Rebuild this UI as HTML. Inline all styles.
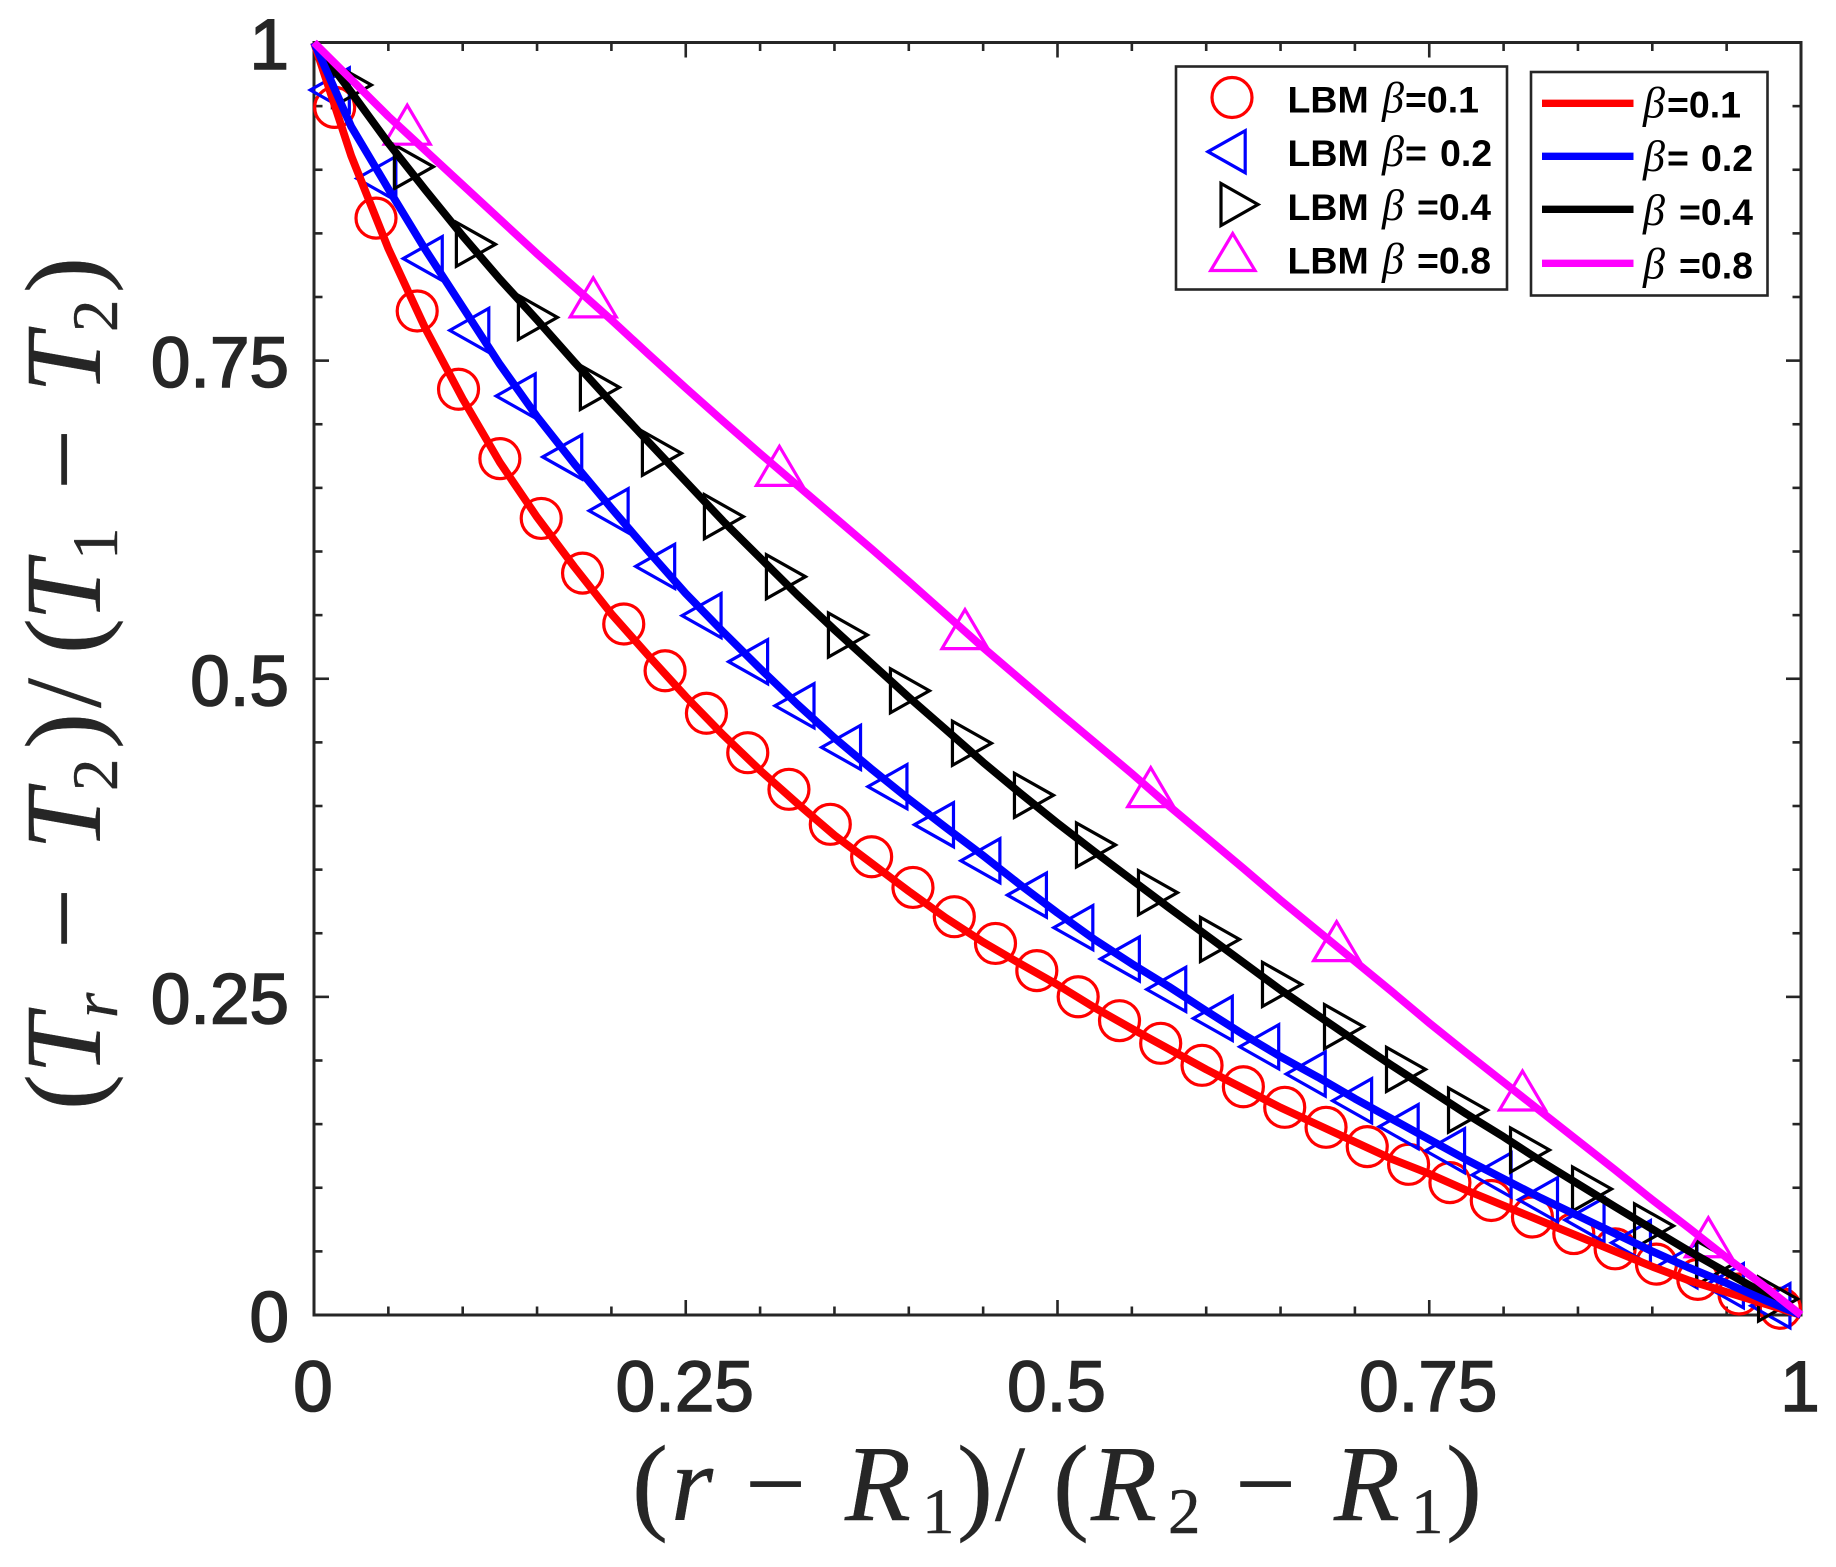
<!DOCTYPE html>
<html lang="en">
<head>
<meta charset="utf-8">
<title>Temperature profile chart</title>
<style>
html,body{margin:0;padding:0;background:#fff;}
svg{display:block;}
.tick-label{font-family:"Liberation Sans",sans-serif;font-size:71px;fill:#262626;stroke:#262626;stroke-width:1.6px;}
.math{font-family:"Liberation Serif",serif;fill:#262626;stroke:#262626;stroke-width:0.4px;}
.it{font-style:italic;}
.leg{font-family:"Liberation Sans",sans-serif;font-weight:bold;font-size:37.5px;fill:#000;}
.beta{font-family:"Liberation Serif",serif;font-style:italic;font-size:44px;font-weight:normal;fill:#000;}
</style>
</head>
<body>
<svg id="chart" xmlns="http://www.w3.org/2000/svg" width="1836" height="1567" viewBox="0 0 1836 1567">
  <rect x="0" y="0" width="1836" height="1567" fill="#fff"/>
  <g id="axes-layer"></g>
  <g id="marker-layer"></g>
  <g id="line-layer"></g>

  <text class="math" font-size="108">
    <tspan class="math" x="632" y="1520">(</tspan><tspan class="math it" x="671" y="1520">r</tspan><tspan class="math" x="745" y="1520">−</tspan><tspan class="math it" x="845" y="1520">R</tspan><tspan class="math" x="922" y="1533" font-size="65">1</tspan><tspan class="math" x="957" y="1520">)</tspan><tspan class="math" x="995" y="1520">/</tspan><tspan class="math" x="1053" y="1520">(</tspan><tspan class="math it" x="1091" y="1520">R</tspan><tspan class="math" x="1168" y="1533" font-size="65">2</tspan><tspan class="math" x="1235" y="1520">−</tspan><tspan class="math it" x="1334" y="1520">R</tspan><tspan class="math" x="1411" y="1533" font-size="65">1</tspan><tspan class="math" x="1446" y="1520">)</tspan>
  </text>

  <g transform="translate(100,0) rotate(-90)">
    <text class="math" font-size="108">
      <tspan class="math" x="-1110" y="0">(</tspan><tspan class="math it" x="-1074" y="0">T</tspan><tspan class="math it" x="-1018" y="17" font-size="65">r</tspan><tspan class="math" x="-949" y="0">−</tspan><tspan class="math it" x="-850" y="0">T</tspan><tspan class="math" x="-791" y="17" font-size="65">2</tspan><tspan class="math" x="-749" y="0">)</tspan><tspan class="math" x="-708" y="0">/</tspan><tspan class="math" x="-654" y="0">(</tspan><tspan class="math it" x="-621" y="0">T</tspan><tspan class="math" x="-560" y="17" font-size="65">1</tspan><tspan class="math" x="-490" y="0">−</tspan><tspan class="math it" x="-393" y="0">T</tspan><tspan class="math" x="-332" y="17" font-size="65">2</tspan><tspan class="math" x="-293" y="0">)</tspan>
    </text>
  </g>

  <g>
    <rect x="1176" y="66.5" width="331" height="223" fill="#fff" stroke="#262626" stroke-width="2.6"/>
    <circle cx="1232" cy="97.5" r="20" fill="none" stroke="#ff0000" stroke-width="3.2"/>
    <polygon points="1208,151.7 1245.2,130.7 1245.2,172.7" fill="none" stroke="#0000ff" stroke-width="3.2"/>
    <polygon points="1258,204.5 1221,183.5 1221,225.5" fill="none" stroke="#000" stroke-width="3.2"/>
    <polygon points="1232.7,233.5 1210.7,270.5 1255,270.5" fill="none" stroke="#ff00ff" stroke-width="3.2"/>
    <text class="leg" x="1287.5" y="112.5">LBM<tspan class="beta" x="1382">β</tspan><tspan class="leg" x="1405">=0.1</tspan></text>
    <text class="leg" x="1287.5" y="166">LBM<tspan class="beta" x="1382">β</tspan><tspan class="leg" x="1405">=</tspan><tspan class="leg" x="1440">0.2</tspan></text>
    <text class="leg" x="1287.5" y="220">LBM<tspan class="beta" x="1382">β</tspan><tspan class="leg" x="1417">=0.4</tspan></text>
    <text class="leg" x="1287.5" y="273.5">LBM<tspan class="beta" x="1382">β</tspan><tspan class="leg" x="1417">=0.8</tspan></text>
  </g>

  <g>
    <rect x="1531" y="72" width="236.5" height="223.5" fill="#fff" stroke="#262626" stroke-width="2.6"/>
    <line x1="1542" x2="1633.5" y1="103.3" y2="103.3" stroke="#ff0000" stroke-width="7.3"/>
    <line x1="1542" x2="1633.5" y1="156.3" y2="156.3" stroke="#0000ff" stroke-width="7.3"/>
    <line x1="1542" x2="1633.5" y1="209.3" y2="209.3" stroke="#000" stroke-width="7.3"/>
    <line x1="1542" x2="1633.5" y1="263.3" y2="263.3" stroke="#ff00ff" stroke-width="7.3"/>
    <text class="leg" y="117.5"><tspan class="beta" x="1643">β</tspan><tspan class="leg" x="1667">=0.1</tspan></text>
    <text class="leg" y="171"><tspan class="beta" x="1643">β</tspan><tspan class="leg" x="1667">=</tspan><tspan class="leg" x="1701">0.2</tspan></text>
    <text class="leg" y="225"><tspan class="beta" x="1643">β</tspan><tspan class="leg" x="1679">=0.4</tspan></text>
    <text class="leg" y="278.5"><tspan class="beta" x="1643">β</tspan><tspan class="leg" x="1679">=0.8</tspan></text>
  </g>
</svg>
<script>
const xTickLabels = ["0", "0.25", "0.5", "0.75", "1"];
const yTickLabels = ["0", "0.25", "0.5", "0.75", "1"];
const majorTicks = [0, 0.25, 0.5, 0.75, 1];
const minorTicks = [0.05, 0.1, 0.15, 0.2, 0.3, 0.35, 0.4, 0.45, 0.55, 0.6, 0.65, 0.7, 0.8, 0.85, 0.9, 0.95];

const lbmRedX = [0.0139,0.0417,0.0694,0.0972,0.125,0.1528,0.1806,0.2083,0.2361,0.2639,0.2917,0.3194,0.3472,0.375,0.4028,0.4306,0.4583,0.4861,0.5139,0.5417,0.5694,0.5972,0.625,0.6528,0.6806,0.7083,0.7361,0.7639,0.7917,0.8194,0.8472,0.875,0.9028,0.9306,0.9583,0.9861];
const lbmRedY = [0.949,0.862,0.789,0.7275,0.673,0.626,0.583,0.543,0.5063,0.4729,0.4419,0.4131,0.3856,0.3601,0.336,0.313,0.292,0.2706,0.2501,0.2313,0.2135,0.1962,0.1794,0.1632,0.1475,0.1323,0.1184,0.104,0.09,0.077,0.064,0.052,0.04,0.028,0.0165,0.0053];

const lbmBlueX = [0.0103,0.0416,0.0728,0.1041,0.1353,0.1666,0.1978,0.2291,0.2603,0.2916,0.3228,0.3541,0.3853,0.4166,0.4478,0.4791,0.5103,0.5416,0.5728,0.6041,0.6353,0.6666,0.6978,0.7291,0.7603,0.7916,0.8228,0.8541,0.8853,0.9166,0.9478,0.9791];
const lbmBlueY = [0.9627,0.8931,0.8302,0.7738,0.7222,0.6743,0.632,0.5883,0.5496,0.5134,0.4788,0.4461,0.4152,0.3853,0.357,0.33,0.3044,0.2798,0.2559,0.2331,0.2108,0.1894,0.1684,0.148,0.1291,0.11,0.0906,0.0747,0.0568,0.0387,0.023,0.0073];

const lbmBlackX = [0.0258,0.0675,0.1092,0.1509,0.1926,0.2343,0.276,0.3177,0.3594,0.4011,0.4428,0.4845,0.5262,0.5679,0.6096,0.6513,0.693,0.7347,0.7764,0.8181,0.8598,0.9015,0.9432,0.9849];
const lbmBlackY = [0.9666,0.9024,0.8414,0.784,0.729,0.6772,0.6274,0.5802,0.5344,0.4906,0.4493,0.4084,0.3694,0.3319,0.2952,0.2598,0.2266,0.193,0.161,0.1297,0.099,0.07,0.041,0.0126];

const lbmMagentaX = [0.0627,0.1878,0.313,0.4378,0.5627,0.6877,0.8127,0.9377];
const lbmMagentaY = [0.9358,0.8001,0.6677,0.5394,0.4152,0.2942,0.1768,0.0615];

const lineX = [0,0.025,0.05,0.075,0.1,0.125,0.15,0.175,0.2,0.225,0.25,0.275,0.3,0.325,0.35,0.375,0.4,0.425,0.45,0.475,0.5,0.525,0.55,0.575,0.6,0.625,0.65,0.675,0.7,0.725,0.75,0.775,0.8,0.825,0.85,0.875,0.9,0.925,0.95,0.975,1];
const lineRedY = [1,0.911,0.838,0.775,0.72,0.67,0.627,0.588,0.551,0.518,0.486,0.456,0.428,0.402,0.377,0.355,0.333,0.312,0.293,0.276,0.2595,0.2415,0.225,0.209,0.193,0.178,0.163,0.1495,0.136,0.1225,0.111,0.098,0.086,0.074,0.062,0.05,0.038,0.027,0.018,0.009,0];
const lineBlueY = [1,0.934,0.885,0.837,0.792,0.747,0.706,0.669,0.634,0.6,0.567,0.537,0.508,0.48,0.4535,0.429,0.4055,0.383,0.361,0.338,0.316,0.295,0.276,0.258,0.239,0.2205,0.203,0.187,0.17,0.154,0.138,0.122,0.107,0.092,0.078,0.064,0.05,0.037,0.025,0.012,0];
const lineBlackY = [1,0.961,0.921,0.884,0.848,0.814,0.782,0.749,0.717,0.686,0.655,0.624,0.595,0.566,0.5385,0.512,0.4855,0.46,0.4343,0.41,0.3865,0.364,0.342,0.32,0.2985,0.277,0.2555,0.2355,0.2155,0.196,0.177,0.158,0.14,0.121,0.103,0.085,0.0675,0.05,0.0335,0.017,0];
const lineMagentaY = [1,0.971,0.942,0.915,0.888,0.861,0.834,0.808,0.782,0.755,0.7285,0.7025,0.677,0.652,0.627,0.602,0.5765,0.5505,0.5245,0.4995,0.4745,0.45,0.4255,0.4,0.3755,0.351,0.326,0.302,0.278,0.254,0.2295,0.206,0.183,0.16,0.137,0.114,0.0905,0.068,0.045,0.023,0];

const NS = 'http://www.w3.org/2000/svg';
const plotLeft = 314, plotRight = 1801, plotTop = 42.5, plotBottom = 1315;
const AXIS = '#262626';
function xScale(v) { return plotLeft + v * (plotRight - plotLeft); }
function yScale(v) { return plotBottom - v * (plotBottom - plotTop); }

const axesLayer = document.getElementById('axes-layer');
const markerLayer = document.getElementById('marker-layer');
const lineLayer = document.getElementById('line-layer');

function addLine(x1, y1, x2, y2, width) {
  const el = document.createElementNS(NS, 'line');
  
  
  el.setAttribute('x1', x1);
  el.setAttribute('y1', y1);
  el.setAttribute('x2', x2);
  el.setAttribute('y2', y2);
  el.setAttribute('stroke', AXIS);
  el.setAttribute('stroke-width', width);
  axesLayer.appendChild(el);
}
function addTicks(values, len) {
  values.forEach(function (v) {
    const x = xScale(v), y = yScale(v);
    addLine(x, plotBottom, x, plotBottom - len, 2.6);
    addLine(x, plotTop, x, plotTop + len, 2.6);
    addLine(plotLeft, y, plotLeft + len, y, 2.6);
    addLine(plotRight, y, plotRight - len, y, 2.6);
  });
}
addTicks(minorTicks, 8.5);
addTicks(majorTicks, 15);

const frame = document.createElementNS(NS, 'rect');


frame.setAttribute('x', plotLeft);
frame.setAttribute('y', plotTop);
frame.setAttribute('width', plotRight - plotLeft);
frame.setAttribute('height', plotBottom - plotTop);
frame.setAttribute('fill', 'none');
frame.setAttribute('stroke', AXIS);
frame.setAttribute('stroke-width', 3);
axesLayer.appendChild(frame);

majorTicks.forEach(function (v, i) {
  const xl = document.createElementNS(NS, 'text');
  
  
  xl.setAttribute('class', 'tick-label');
  xl.setAttribute('x', xScale(v) - 1);
  xl.setAttribute('y', 1411);
  xl.setAttribute('text-anchor', 'middle');
  xl.textContent = xTickLabels[i];
  axesLayer.appendChild(xl);

  const yl = document.createElementNS(NS, 'text');
  
  
  yl.setAttribute('class', 'tick-label');
  yl.setAttribute('x', 289);
  yl.setAttribute('y', yScale(v) + 26.5);
  yl.setAttribute('text-anchor', 'end');
  yl.textContent = yTickLabels[i];
  axesLayer.appendChild(yl);
});

function drawCircles(xs, ys, color) {
  xs.forEach(function (v, i) {
    const el = document.createElementNS(NS, 'circle');
    
    
    el.setAttribute('cx', xScale(v));
    el.setAttribute('cy', yScale(ys[i]));
    el.setAttribute('r', 20);
    el.setAttribute('fill', 'none');
    el.setAttribute('stroke', color);
    el.setAttribute('stroke-width', 3.2);
    markerLayer.appendChild(el);
  });
}
function drawTriangles(xs, ys, color, kind) {
  xs.forEach(function (v, i) {
    const cx = xScale(v), cy = yScale(ys[i]);
    let pts;
    if (kind === 'left') {
      pts = [[cx - 19, cy], [cx + 20, cy - 22], [cx + 20, cy + 22]];
    } else if (kind === 'right') {
      pts = [[cx + 19, cy], [cx - 20, cy - 22], [cx - 20, cy + 22]];
    } else {
      pts = [[cx, cy - 19], [cx - 23, cy + 20], [cx + 23, cy + 20]];
    }
    const el = document.createElementNS(NS, 'polygon');
    
    
    el.setAttribute('points', pts.map(function (p) { return p[0] + ',' + p[1]; }).join(' '));
    el.setAttribute('fill', 'none');
    el.setAttribute('stroke', color);
    el.setAttribute('stroke-width', 3.2);
    markerLayer.appendChild(el);
  });
}
function drawLine(xs, ys, color) {
  const el = document.createElementNS(NS, 'polyline');
  
  
  el.setAttribute('points', xs.map(function (v, i) { return xScale(v) + ',' + yScale(ys[i]); }).join(' '));
  el.setAttribute('fill', 'none');
  el.setAttribute('stroke', color);
  el.setAttribute('stroke-width', 7.8);
  el.setAttribute('stroke-linejoin', 'round');
  lineLayer.appendChild(el);
}

drawCircles(lbmRedX, lbmRedY, '#ff0000');
drawTriangles(lbmBlueX, lbmBlueY, '#0000ff', 'left');
drawTriangles(lbmBlackX, lbmBlackY, '#000000', 'right');
drawTriangles(lbmMagentaX, lbmMagentaY, '#ff00ff', 'up');

drawLine(lineX, lineBlackY, '#000000');
drawLine(lineX, lineRedY, '#ff0000');
drawLine(lineX, lineBlueY, '#0000ff');
drawLine(lineX, lineMagentaY, '#ff00ff');
</script>
</body>
</html>
